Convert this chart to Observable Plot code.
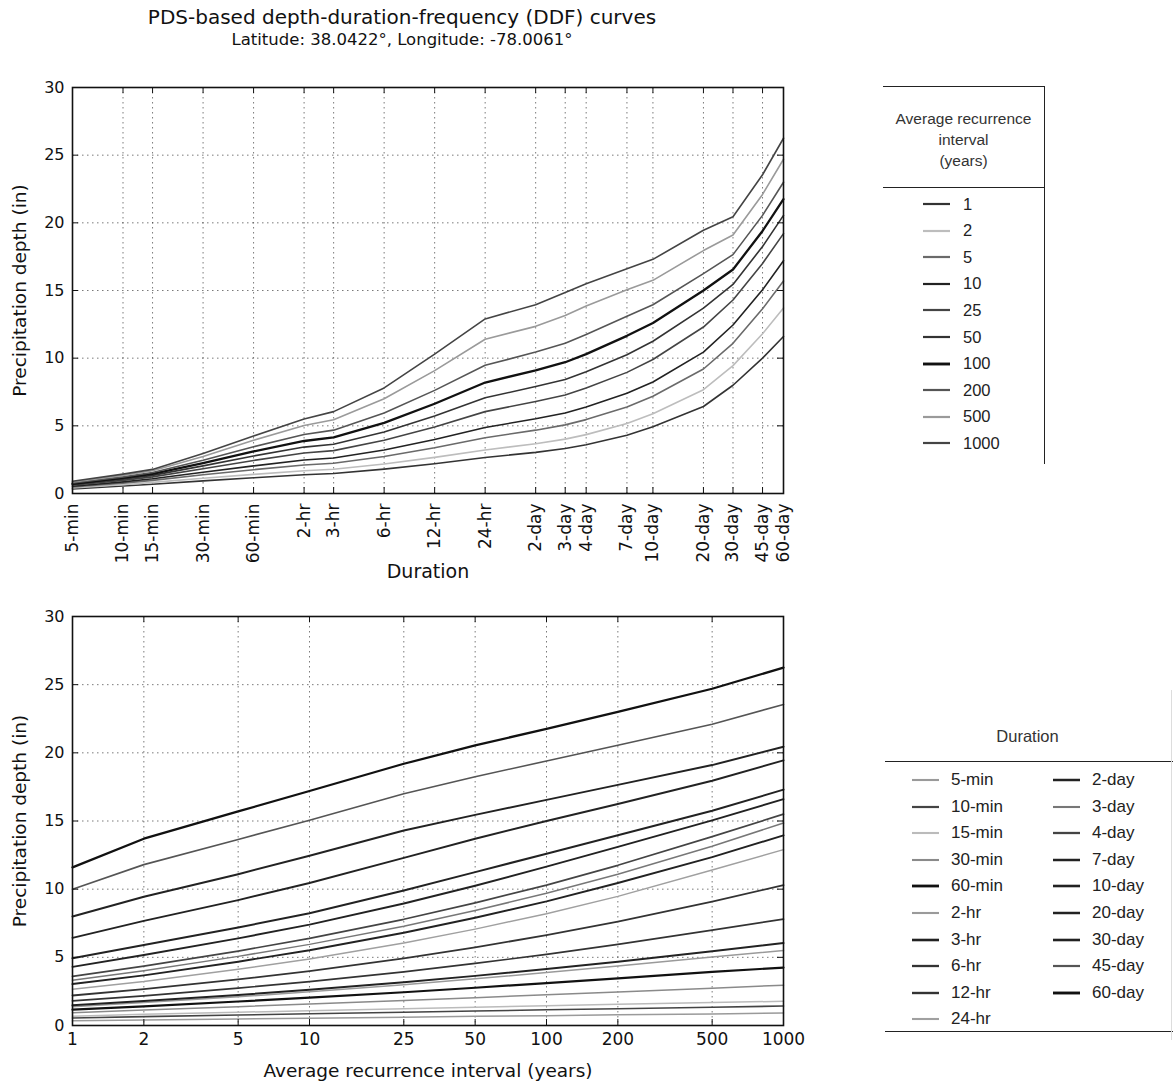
<!DOCTYPE html>
<html>
<head>
<meta charset="utf-8">
<script src="https://cdn.jsdelivr.net/npm/d3@7"></script>
<script src="https://cdn.jsdelivr.net/npm/@observablehq/plot@0.6"></script>
<style>
  html, body { margin: 0; padding: 0; background: #fff; }
  body { width: 1175px; height: 1085px; position: relative; overflow: hidden; font-family: "DejaVu Sans", sans-serif; color: #111; }
  .abs { position: absolute; }
  .title { left: 0; width: 804px; text-align: center; white-space: nowrap; }
  .leg { font-family: "Liberation Sans", Arial, sans-serif; color: #222; }
  .legItem { position: absolute; height: 20px; display: flex; align-items: center; white-space: nowrap; }
</style>
</head>
<body>
<div id="topChart" class="abs" style="left:0;top:0;"></div>
<div id="bottomChart" class="abs" style="left:0;top:600px;"></div>
<div class="abs title" style="top:5px;font-size:20px;">PDS-based depth-duration-frequency (DDF) curves</div>
<div class="abs title" style="top:30px;font-size:16.5px;">Latitude: 38.0422°, Longitude: -78.0061°</div>
<div id="legendTop" class="abs leg"></div>
<div id="legendBottom" class="abs leg"></div>
<script>
// ---------- data ----------
const durations = ["5-min","10-min","15-min","30-min","60-min","2-hr","3-hr","6-hr","12-hr","24-hr",
                   "2-day","3-day","4-day","7-day","10-day","20-day","30-day","45-day","60-day"];
const durationMinutes = [5,10,15,30,60,120,180,360,720,1440,2880,4320,5760,10080,14400,28800,43200,64800,86400];
const recurrenceIntervals = [1,2,5,10,25,50,100,200,500,1000];
const depthTicks = [0,5,10,15,20,25,30];

// precipitation depth (in) per duration, for ARI 1,2,5,10,25,50,100,200,500,1000 years
const depth5min   = [0.34,0.41,0.48,0.54,0.61,0.67,0.72,0.78,0.85,0.91];
const depth10min  = [0.55,0.65,0.77,0.86,0.97,1.06,1.15,1.23,1.34,1.43];
const depth15min  = [0.68,0.82,0.97,1.09,1.23,1.34,1.45,1.55,1.68,1.78];
const depth30min  = [0.93,1.13,1.38,1.57,1.83,2.04,2.25,2.46,2.74,2.96];
const depth60min  = [1.16,1.41,1.76,2.04,2.44,2.77,3.11,3.46,3.93,4.25];
const depth2hr    = [1.38,1.68,2.11,2.47,2.99,3.43,3.88,4.36,5.02,5.50];
const depth3hr    = [1.48,1.79,2.24,2.62,3.17,3.64,4.14,4.68,5.45,6.05];
const depth6hr    = [1.80,2.18,2.74,3.22,3.93,4.55,5.22,5.95,7.00,7.80];
const depth12hr   = [2.20,2.67,3.38,3.99,4.92,5.73,6.63,7.62,9.08,10.30];
const depth24hr   = [2.66,3.22,4.12,4.88,6.05,7.07,8.20,9.47,11.40,12.90];
const depth2day   = [3.04,3.68,4.68,5.52,6.80,7.90,9.10,10.45,12.35,13.95];
const depth3day   = [3.32,4.02,5.07,5.95,7.28,8.43,9.70,11.10,13.15,14.85];
const depth4day   = [3.60,4.35,5.46,6.39,7.79,9.00,10.30,11.75,13.85,15.50];
const depth7day   = [4.30,5.17,6.39,7.40,8.95,10.25,11.65,13.10,15.05,16.60];
const depth10day  = [4.93,5.90,7.19,8.24,9.90,11.25,12.60,13.95,15.75,17.30];
const depth20day  = [6.43,7.67,9.20,10.45,12.30,13.70,15.00,16.25,17.95,19.45];
const depth30day  = [8.00,9.45,11.10,12.45,14.30,15.45,16.55,17.65,19.10,20.45];
const depth45day  = [10.00,11.80,13.65,15.05,17.00,18.25,19.40,20.55,22.10,23.55];
const depth60day  = [11.60,13.70,15.70,17.20,19.20,20.55,21.75,23.00,24.70,26.25];
const depthRows = [depth5min,depth10min,depth15min,depth30min,depth60min,depth2hr,depth3hr,depth6hr,depth12hr,depth24hr,
                   depth2day,depth3day,depth4day,depth7day,depth10day,depth20day,depth30day,depth45day,depth60day];

// ---------- styles ----------
const ariColors = ["#333","#bdbdbd","#6a6a6a","#222","#444","#333","#111","#555","#9a9a9a","#444"];
const ariWidths = [1.6,1.6,1.6,1.6,1.6,1.6,2.3,1.6,1.6,1.6];
const durColors = ["#9a9a9a","#444","#bbbbbb","#8a8a8a","#111","#9a9a9a","#222","#333","#333","#a0a0a0",
                   "#222","#777","#444","#222","#222","#222","#222","#555","#111"];
const durWidths = [1.5,1.6,1.5,1.5,2.2,1.5,2.0,1.7,1.8,1.5,1.9,1.5,1.7,1.9,2.0,1.9,2.0,1.6,2.3];

// long table built from the arrays
const table = [];
durations.forEach((dur, i) => {
  recurrenceIntervals.forEach((ari, j) => {
    table.push({duration: dur, minutes: durationMinutes[i], ari, depth: depthRows[i][j]});
  });
});

const gridStyle = {stroke: "#222", strokeOpacity: 0.6, strokeDasharray: "1.5,3.5", strokeWidth: 1};
const fontStack = "'DejaVu Sans', sans-serif";

// ---------- top chart: depth vs duration ----------
{
  const width = 800, height = 590, mt = 87, mb = 97, ml = 72, mr = 17;
  const pw = width - ml - mr, ph = height - mt - mb;
  const lines = recurrenceIntervals.map((a, j) =>
    Plot.line(table.filter(d => d.ari === a), {x: "minutes", y: "depth", stroke: ariColors[j], strokeWidth: ariWidths[j]}));
  const chart = Plot.plot({
    width, height, marginTop: mt, marginBottom: mb, marginLeft: ml, marginRight: mr,
    style: {background: "transparent", fontFamily: fontStack, fontSize: "16px", color: "#111", overflow: "visible"},
    x: {type: "log", domain: [5, 86400], axis: null},
    y: {domain: [0, 30]},
    marks: [
      Plot.gridX(durationMinutes, gridStyle),
      Plot.gridY(depthTicks, gridStyle),
      ...lines,
      Plot.tickX(durationMinutes, {x: d => d, insetTop: ph - 6, stroke: "#111"}),
      Plot.tickX(durationMinutes, {x: d => d, insetBottom: ph - 6, stroke: "#111"}),
      Plot.tickY(depthTicks, {y: d => d, insetRight: pw - 6, stroke: "#111"}),
      Plot.tickY(depthTicks, {y: d => d, insetLeft: pw - 6, stroke: "#111"}),
      Plot.frame({stroke: "#111", strokeWidth: 1.6}),
      Plot.text(durationMinutes, {x: d => d, text: d => durations[durationMinutes.indexOf(d)], frameAnchor: "bottom",
        rotate: -90, textAnchor: "end", lineAnchor: "middle", dy: 10, fontSize: 17}),
      Plot.axisY(depthTicks, {tickSize: 0, tickPadding: 8, fontSize: 16, label: null}),
      Plot.text(["Duration"], {text: d => d, frameAnchor: "bottom", textAnchor: "middle", dy: 84, fontSize: 19}),
      Plot.text(["Precipitation depth (in)"], {text: d => d, frameAnchor: "left", textAnchor: "middle", dx: -52, rotate: -90, fontSize: 18.5})
    ]
  });
  document.getElementById("topChart").appendChild(chart);
}

// ---------- bottom chart: depth vs recurrence interval ----------
{
  const width = 800, height = 485, mt = 16, mb = 60, ml = 72, mr = 17;
  const pw = width - ml - mr, ph = height - mt - mb;
  const lines = durations.map((dur, i) =>
    Plot.line(table.filter(d => d.duration === dur), {x: "ari", y: "depth", stroke: durColors[i], strokeWidth: durWidths[i]}));
  const chart = Plot.plot({
    width, height, marginTop: mt, marginBottom: mb, marginLeft: ml, marginRight: mr,
    style: {background: "transparent", fontFamily: fontStack, fontSize: "16px", color: "#111", overflow: "visible"},
    x: {type: "log", domain: [1, 1000], axis: null},
    y: {domain: [0, 30]},
    marks: [
      Plot.gridX(recurrenceIntervals, gridStyle),
      Plot.gridY(depthTicks, gridStyle),
      ...lines,
      Plot.tickX(recurrenceIntervals, {x: d => d, insetTop: ph - 6, stroke: "#111"}),
      Plot.tickX(recurrenceIntervals, {x: d => d, insetBottom: ph - 6, stroke: "#111"}),
      Plot.tickY(depthTicks, {y: d => d, insetRight: pw - 6, stroke: "#111"}),
      Plot.tickY(depthTicks, {y: d => d, insetLeft: pw - 6, stroke: "#111"}),
      Plot.frame({stroke: "#111", strokeWidth: 1.6}),
      Plot.text(recurrenceIntervals, {x: d => d, text: d => String(d), frameAnchor: "bottom", textAnchor: "middle",
        lineAnchor: "top", dy: 7, fontSize: 17}),
      Plot.axisY(depthTicks, {tickSize: 0, tickPadding: 8, fontSize: 16, label: null}),
      Plot.text(["Average recurrence interval (years)"], {text: d => d, frameAnchor: "bottom", textAnchor: "middle", dy: 51, fontSize: 18.5}),
      Plot.text(["Precipitation depth (in)"], {text: d => d, frameAnchor: "left", textAnchor: "middle", dx: -52, rotate: -90, fontSize: 18.5})
    ]
  });
  document.getElementById("bottomChart").appendChild(chart);
}

// ---------- legends ----------
function swatch(color, w, len) {
  return `<svg width="${len}" height="8" style="display:block"><line x1="0" y1="4" x2="${len}" y2="4" stroke="${color}" stroke-width="${w + 0.6}"/></svg>`;
}
{
  const el = document.getElementById("legendTop");
  el.style.cssText += "left:883px;top:86px;width:161px;height:377px;border-top:1.5px solid #222;border-right:1.5px solid #222;";
  let html = `<div style="position:absolute;left:0;width:161px;top:21px;text-align:center;font-size:15.5px;line-height:21px;color:#333;">Average recurrence<br>interval<br>(years)</div>`;
  html += `<div style="position:absolute;left:0;width:161px;top:100px;border-top:1.5px solid #222;"></div>`;
  recurrenceIntervals.forEach((a, j) => {
    html += `<div class="legItem" style="left:40px;top:${107 + j * 26.6}px;font-size:16.5px;">${swatch(ariColors[j], ariWidths[j], 27)}<span style="margin-left:13px">${a}</span></div>`;
  });
  el.innerHTML = html;
}
{
  const el = document.getElementById("legendBottom");
  el.style.cssText += "left:885px;top:690px;width:288px;height:350px;";
  let html = `<div style="position:absolute;left:0;width:285px;top:37px;text-align:center;font-size:16.5px;color:#333;">Duration</div>`;
  html += `<div style="position:absolute;left:0;width:288px;top:71px;border-top:1.5px solid #222;"></div>`;
  html += `<div style="position:absolute;left:0;width:288px;top:341px;border-top:1.5px solid #222;"></div>`;
  html += `<div style="position:absolute;left:286px;top:0;height:350px;border-left:1px solid #ddd;"></div>`;
  durations.forEach((dur, i) => {
    const col = i < 10 ? 0 : 1, row = i < 10 ? i : i - 10;
    const left = col === 0 ? 27 : 168;
    html += `<div class="legItem" style="left:${left}px;top:${80 + row * 26.6}px;font-size:17px;">${swatch(durColors[i], durWidths[i], 27)}<span style="margin-left:12px">${dur}</span></div>`;
  });
  el.innerHTML = html;
}
</script>
</body>
</html>
